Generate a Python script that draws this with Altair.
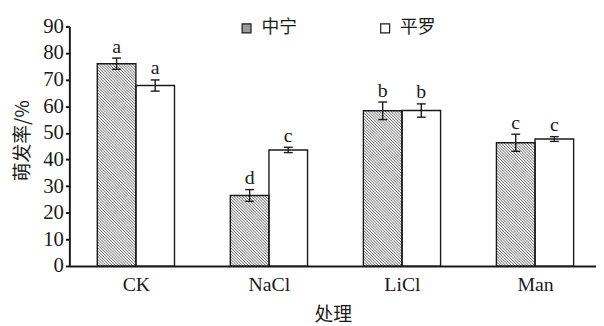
import altair as alt
import pandas as pd

categories = ["CK", "NaCl", "LiCl", "Man"]
series_names = ["中宁", "平罗"]
zhongning = [76.0, 26.5, 58.3, 46.3]
zhongning_err = [2.1, 2.2, 3.3, 3.2]
pingluo = [67.8, 43.6, 58.4, 47.7]
pingluo_err = [2.1, 1.0, 2.5, 0.9]
zhongning_letters = ["a", "d", "b", "c"]
pingluo_letters = ["a", "c", "b", "c"]
y_ticks = list(range(0, 91, 10))

# ---- layout (pixels) ----
PLOT_W = 532
PLOT_H = 242
STEP_PX = 134.4
X_MIN = -0.5
X_MAX = X_MIN + PLOT_W / STEP_PX
BAR_W = 39 / STEP_PX
Y_MAX = 90
KY = PLOT_H / Y_MAX
HATCH_SP = 2.9

SERIF = "Liberation Serif"
CJK = "Noto Sans CJK SC"
INK = "#1a1a1a"

rows = []
for i, cat in enumerate(categories):
    for s, vals, errs, lets, side in [
        (series_names[0], zhongning, zhongning_err, zhongning_letters, -1),
        (series_names[1], pingluo, pingluo_err, pingluo_letters, 0),
    ]:
        x0 = i + side * BAR_W
        x1 = x0 + BAR_W
        rows.append(dict(cat=cat, series=s, value=vals[i], err=errs[i], letter=lets[i],
                         x0=x0, x1=x1, xc=(x0 + x1) / 2))
df = pd.DataFrame(rows)

# hatch lines for the 中宁 bars, derived from their values
hatch = []
for i, v in enumerate(zhongning):
    x0 = i - BAR_W
    wp = BAR_W * STEP_PX
    hp = v * KY
    c = HATCH_SP / 2
    while c < wp + hp:
        us = max(0.0, c - hp)
        ue = min(wp, c)
        hatch.append(dict(hx=x0 + us / STEP_PX, hy=(c - us) / KY,
                          hx2=x0 + ue / STEP_PX, hy2=(c - ue) / KY))
        c += HATCH_SP
hdf = pd.DataFrame(hatch)

label_js = "[" + ",".join("'%s'" % c for c in categories) + "]"

xscale = alt.Scale(domain=[X_MIN, X_MAX], nice=False, zero=False)
yscale = alt.Scale(domain=[0, Y_MAX], nice=False)

xaxis = alt.Axis(values=list(range(len(categories))), labelExpr=label_js + "[datum.value]",
                 title="处理", ticks=False, grid=False, domainWidth=2, domainColor=INK,
                 labelFont=SERIF, labelFontSize=20, labelColor=INK, labelPadding=9,
                 titleFont=CJK, titleFontSize=19, titleFontWeight="normal", titleColor=INK,
                 titlePadding=11)
yaxis = alt.Axis(values=y_ticks, tickCount=len(y_ticks), title="萌发率/%", grid=False,
                 domainWidth=2, domainColor=INK,
                 tickSize=4, tickWidth=2, tickColor=INK, labelOverlap=False,
                 labelFont=SERIF, labelFontSize=21, labelColor=INK, labelPadding=2,
                 titleFont=CJK, titleFontSize=19, titleFontWeight="normal", titleColor=INK,
                 titlePadding=10, titleY=115)


def X(field):
    return alt.X(field, scale=xscale, axis=xaxis)


def Y(field):
    return alt.Y(field, scale=yscale, axis=yaxis)


base = alt.Chart(df)

bars_fill = base.mark_rect(fill="white", stroke=None).encode(
    x=X("x0:Q"), x2="x1:Q", y=Y("value:Q"), y2=alt.datum(0),
)

hatch_layer = alt.Chart(hdf).mark_rule(color="#333333", strokeWidth=0.8).encode(
    x=X("hx:Q"), y=Y("hy:Q"), x2="hx2:Q", y2="hy2:Q"
)

bars_outline = base.mark_rect(fillOpacity=0, stroke=INK, strokeWidth=1.4).encode(
    x=X("x0:Q"), x2="x1:Q", y=Y("value:Q"), y2=alt.datum(0)
)

err_rule = base.transform_calculate(
    lo="datum.value - datum.err", hi="datum.value + datum.err"
).mark_rule(color=INK, strokeWidth=1.4).encode(x=X("xc:Q"), y=Y("lo:Q"), y2="hi:Q")

cap_hi = base.transform_calculate(hi="datum.value + datum.err").mark_tick(
    orient="horizontal", size=9, thickness=1.4, color=INK, opacity=1
).encode(x=X("xc:Q"), y=Y("hi:Q"))
cap_lo = base.transform_calculate(lo="datum.value - datum.err").mark_tick(
    orient="horizontal", size=9, thickness=1.4, color=INK, opacity=1
).encode(x=X("xc:Q"), y=Y("lo:Q"))

letters = base.transform_calculate(hi="datum.value + datum.err").mark_text(
    font=SERIF, fontSize=20, dy=-5.5, baseline="alphabetic", color=INK
).encode(x=X("xc:Q"), y=Y("hi:Q"), text="letter:N")

legend_layer = base.mark_square(size=0, opacity=0).encode(
    x=X("xc:Q"), y=Y("value:Q"),
    fill=alt.Fill("series:N", scale=alt.Scale(domain=series_names, range=["#9a9a9a", "white"]),
                  legend=alt.Legend(orient="none", legendX=170, legendY=-7, direction="horizontal",
                                    title=None, symbolType="square", symbolSize=81,
                                    symbolOpacity=1, symbolStrokeColor=INK, symbolStrokeWidth=1.2,
                                    labelFont=CJK, labelFontSize=18, labelColor=INK,
                                    labelOffset=6, columnPadding=80, padding=0)),
)

chart = alt.layer(
    bars_fill, hatch_layer, bars_outline, err_rule, cap_hi, cap_lo, letters, legend_layer
).properties(
    width=PLOT_W, height=PLOT_H,
    autosize=alt.AutoSizeParams(type="none"),
    padding={"left": 62, "top": 17, "right": 0, "bottom": 59},
    background="white",
).configure_view(stroke=None)

chart.save("out.html", embed_options={"renderer": "svg", "actions": False})
